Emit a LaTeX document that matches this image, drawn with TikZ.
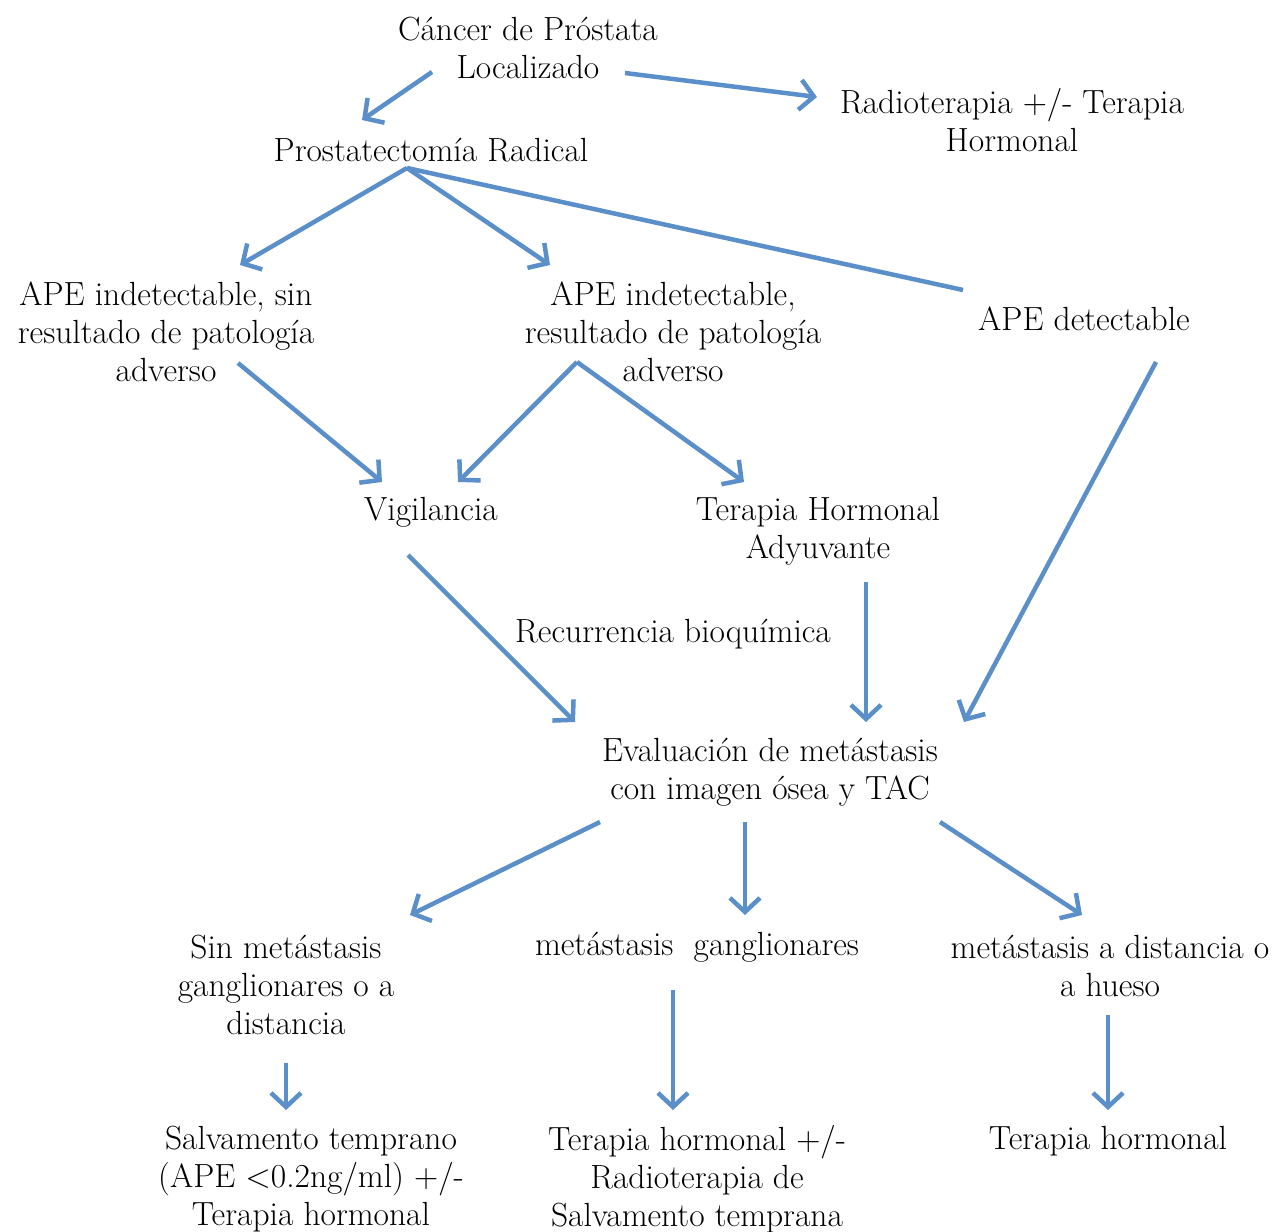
\documentclass[tikz,border=0pt]{standalone}
\usetikzlibrary{arrows.meta,calc}
\definecolor{flecha}{RGB}{91,143,201}
\tikzset{
  caja/.style={align=center, inner sep=0pt, font=\fontsize{33.5}{38}\selectfont},
  flujo/.style={draw=flecha, line width=4.5pt, -{Straight Barb[length=14pt,width=30pt]}},
  linea/.style={draw=flecha, line width=4.5pt},
}
\begin{document}
\begin{tikzpicture}[x=1pt,y=-1pt]
    \useasboundingbox (0,0) rectangle (1278,1232);
    % nodes
    \node (cancer) [caja] at (528,48) {Cáncer de Próstata\\Localizado};
    \node (radio) [caja] at (1012,120) {Radioterapia +/- Terapia\\Hormonal};
    \node (prost) [caja] at (431,150) {Prostatectomía Radical};
    \node (apeA) [caja] at (166,332) {APE indetectable, sin\\resultado de patología\\adverso};
    \node (apeB) [caja] at (673,332) {APE indetectable,\\resultado de patología\\adverso};
    \node (apeC) [caja] at (1084,319) {APE detectable};
    \node (vig) [caja] at (431,512) {Vigilancia};
    \node (tha) [caja] at (818,531) {Terapia Hormonal\\Adyuvante};
    \node (recur) [caja] at (673,634) {Recurrencia bioquímica};
    \node (eval) [caja] at (770,772) {Evaluación de metástasis\\con imagen ósea y TAC};
    \node (sin) [caja] at (286,985) {Sin metástasis\\ganglionares o a\\distancia};
    \node (gang) [caja] at (697,947) {metástasis~~ganglionares};
    \node (dist) [caja] at (1110,966) {metástasis a distancia o\\a hueso};
    \node (salv) [caja] at (311,1179) {Salvamento temprano\\(APE <0.2ng/ml) +/-\\Terapia hormonal};
    \node (thr) [caja] at (697,1179) {Terapia hormonal +/-\\Radioterapia de\\Salvamento temprana};
    \node (th) [caja] at (1108,1141) {Terapia hormonal};

    % connectors
    \draw[flujo] ($(cancer)+(-96,24)$) -- ($(prost)+(-69,-30)$);
    \draw[flujo] ($(cancer)+(97,25)$) -- ($(radio)+(-195,-23)$);
    \draw[flujo] ($(prost)+(-24,18)$) -- ($(apeA)+(74,-67)$);
    \draw[flujo] ($(prost)+(-24,18)$) -- ($(apeB)+(-123,-67)$);
    \draw[linea] ($(prost)+(-24,18)$) -- ($(apeC)+(-121,-29)$);
    \draw[flujo] ($(apeA)+(72,31)$) -- ($(vig)+(-49,-30)$);
    \draw[flujo] ($(apeB)+(-96,30)$) -- ($(vig)+(27,-30)$);
    \draw[flujo] ($(apeB)+(-96,30)$) -- ($(tha)+(-74,-49)$);
    \draw[flujo] ($(vig)+(-23,43)$) -- ($(eval)+(-195,-50)$);
    \draw[flujo] ($(tha)+(48,51)$) -- ($(eval)+(96,-50)$);
    \draw[flujo] ($(apeC)+(72,43)$) -- ($(eval)+(194,-50)$);
    \draw[flujo] ($(eval)+(-170,50)$) -- ($(sin)+(124,-70)$);
    \draw[flujo] ($(eval)+(-25,50)$) -- ($(gang)+(48,-32)$);
    \draw[flujo] ($(eval)+(170,50)$) -- ($(dist)+(-28,-51)$);
    \draw[flujo] ($(sin)+(0,78)$) -- ($(salv)+(-25,-69)$);
    \draw[flujo] ($(gang)+(-24,43)$) -- ($(thr)+(-24,-69)$);
    \draw[flujo] ($(dist)+(-2,49)$) -- ($(th)+(0,-31)$);
\end{tikzpicture}
\end{document}
